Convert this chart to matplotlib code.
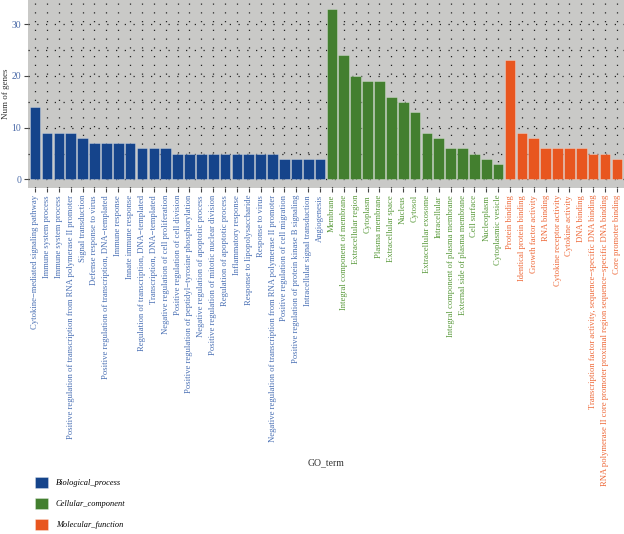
import numpy as np
import matplotlib
matplotlib.use("Agg")
import matplotlib.pyplot as plt
from matplotlib.patches import Patch
from matplotlib.ticker import MultipleLocator

# GO terms per category
bp_terms = [
    "Cytokine\u2212mediated signaling pathway", "Immune system process", "Immune system process",
    "Positive regulation of transcription from RNA polymerase II promoter", "Signal transduction",
    "Defense response to virus", "Positive regulation of transcription, DNA\u2212templated",
    "Immune response", "Innate immune response", "Regulation of transcription, DNA\u2212templated",
    "Transcription, DNA\u2212templated", "Negative regulation of cell proliferation",
    "Positive regulation of cell division", "Positive regulation of peptidyl\u2212tyrosine phosphorylation",
    "Negative regulation of apoptotic process", "Positive regulation of mitotic nuclear division",
    "Regulation of apoptotic process", "Inflammatory response", "Response to lipopolysaccharide",
    "Response to virus", "Negative regulation of transcription from RNA polymerase II promoter",
    "Positive regulation of cell migration", "Positive regulation of protein kinase B signaling",
    "Intracellular signal transduction", "Angiogenesis",
]
bp_counts = [14, 9, 9, 9, 8, 7, 7, 7, 7, 6, 6, 6, 5, 5, 5, 5, 5, 5, 5, 5, 5, 4, 4, 4, 4]

cc_terms = [
    "Membrane", "Integral component of membrane", "Extracellular region", "Cytoplasm",
    "Plasma membrane", "Extracellular space", "Nucleus", "Cytosol", "Extracellular exosome",
    "Intracellular", "Integral component of plasma membrane", "External side of plasma membrane",
    "Cell surface", "Nucleoplasm", "Cytoplasmic vesicle",
]
cc_counts = [33, 24, 20, 19, 19, 16, 15, 13, 9, 8, 6, 6, 5, 4, 3]

mf_terms = [
    "Protein binding", "Identical protein binding", "Growth factor activity", "RNA binding",
    "Cytokine receptor activity", "Cytokine activity", "DNA binding",
    "Transcription factor activity, sequence\u2212specific DNA binding",
    "RNA polymerase II core promoter proximal region sequence\u2212specific DNA binding",
    "Core promoter binding",
]
mf_counts = [23, 9, 8, 6, 6, 6, 6, 5, 5, 4]

categories = ["Biological_process", "Cellular_component", "Molecular_function"]
bar_colors = ["#15448b", "#437f2f", "#e8561f"]
text_colors = ["#4a70b4", "#5a9a3c", "#ee6a3a"]

groups = [(bp_terms, bp_counts), (cc_terms, cc_counts), (mf_terms, mf_counts)]
terms, counts, cols, tcols = [], [], [], []
for (t, c), bc, tc in zip(groups, bar_colors, text_colors):
    terms += t
    counts += c
    cols += [bc] * len(t)
    tcols += [tc] * len(t)

x = np.arange(len(terms))

plt.rcParams['font.family'] = ['Liberation Serif', 'DejaVu Serif']

fig = plt.figure(figsize=(6.24, 5.34), dpi=100)
ax = fig.add_axes([28 / 624, 1 - 188 / 534, 1 - 28 / 624, 188 / 534])
ax.set_facecolor("#c9c9c7")

edge = matplotlib.colors.to_rgba("white", 0.35)
ax.bar(x, counts, width=0.9, color=cols, edgecolor=[edge] * len(x), linewidth=0.6, zorder=2)

ax.set_xlim(-0.6, len(terms) - 0.4)
ax.set_ylim(-1.65, 34.65)
ax.yaxis.set_major_locator(MultipleLocator(10))
ax.yaxis.set_minor_locator(MultipleLocator(5))
ax.set_xticks(x)
ax.set_xticklabels(terms, rotation=90, fontsize=6.2, va="top", ha="center")
for lbl, c in zip(ax.get_xticklabels(), tcols):
    lbl.set_color(c)

ax.grid(which="both", axis="both", color="#222222", linestyle=(0, (1, 6)), linewidth=0.9, zorder=1)
ax.set_axisbelow(True)
for s in ax.spines.values():
    s.set_visible(False)
ax.tick_params(axis="both", which="major", length=3, color="#444444", width=0.8, pad=2)
ax.tick_params(axis="y", which="minor", length=0)
ax.tick_params(axis="y", labelsize=7, labelcolor="#4a6aa8")

ax.set_ylabel("Num of genes", fontsize=6.5, color="#333333", labelpad=1)
fig.text((28 + 624) / 2 / 624, 1 - 463 / 534, "GO_term", fontsize=7, color="#333333",
         ha="center", va="center")

handles = [Patch(facecolor=c, edgecolor=edge, linewidth=0.6) for c in bar_colors]
fig.legend(handles, categories, loc="upper left", bbox_to_anchor=(35 / 624, 1 - 477 / 534),
           frameon=False, prop={"size": 6, "style": "italic"}, handlelength=1.6, handleheight=1.6,
           handletextpad=0.9, labelspacing=1.25, borderpad=0, borderaxespad=0)

fig.savefig("out.png", dpi=100)
